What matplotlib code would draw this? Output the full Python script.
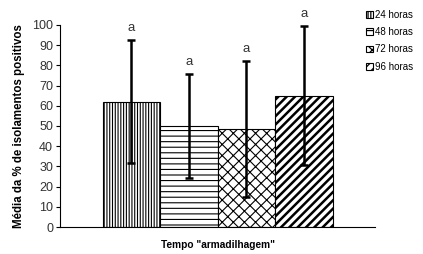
import numpy as np
import matplotlib.pyplot as plt

plt.rcParams['font.family'] = ['Liberation Sans', 'DejaVu Sans']
plt.rcParams['hatch.linewidth'] = 0.9

# data
labels = ['24 horas', '48 horas', '72 horas', '96 horas']
means = [62, 50, 48.5, 65]
errs = [30.5, 25.5, 33.5, 34.5]
letters = ['a', 'a', 'a', 'a']
hatches = ['||||||', '---', 'xxx', '////']
hatch_lw = [0.8, 0.8, 0.8, 1.8]

fig = plt.figure(figsize=(4.23, 2.54), dpi=100)
ax = fig.add_axes([0.142, 0.106, 0.745, 0.796])

x = np.arange(len(means))
bars = ax.bar(x, means, width=1.0, color='white', edgecolor='black', linewidth=0.8)
for b, h, lab, hl in zip(bars, hatches, labels, hatch_lw):
    b.set_hatch(h)
    b.set_label(lab)
    if hasattr(b, 'set_hatch_linewidth'):
        b.set_hatch_linewidth(hl)

ax.errorbar(x, means, yerr=errs, fmt='none', ecolor='black', elinewidth=1.8,
            capsize=3, capthick=1.8)

for xi, m, e, t in zip(x, means, errs, letters):
    ax.text(xi, m + e + 3, t, ha='center', va='bottom', fontsize=9.5, color='#333333')

ax.set_xlim(-1.24, 4.24)
ax.set_ylim(0, 100)
ax.set_yticks(range(0, 101, 10))
ax.set_xticks([])
ax.spines['top'].set_visible(False)
ax.spines['right'].set_visible(False)
ax.tick_params(axis='y', labelsize=9, length=3, colors='black', labelcolor='#333333', pad=2)

ax.set_ylabel('Média da % de isolamentos positivos', fontsize=8.3, fontweight='bold', labelpad=5)
ax.set_xlabel('Tempo "armadilhagem"', fontsize=7.3, fontweight='bold', labelpad=9)

ax.legend(loc='upper left', bbox_to_anchor=(0.97, 1.075), frameon=False, fontsize=7,
          handlelength=0.7, handleheight=0.7, handletextpad=0.25, labelspacing=0.75,
          borderaxespad=0, borderpad=0)

fig.savefig('out.png', dpi=100)
